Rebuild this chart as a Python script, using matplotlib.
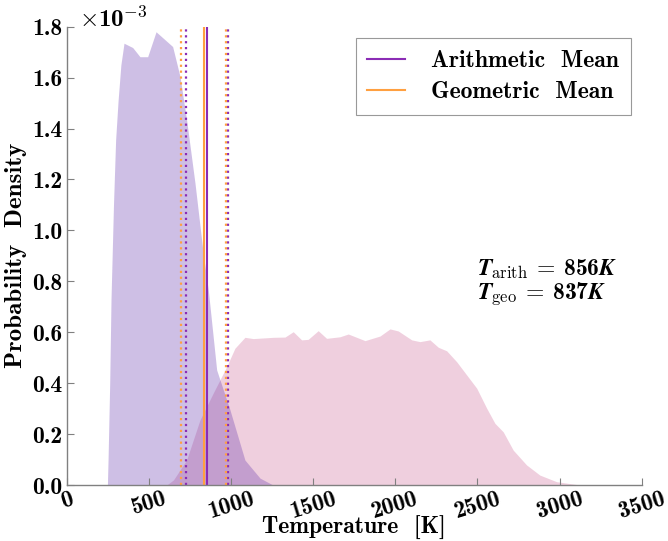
import numpy as np
import matplotlib
matplotlib.use("Agg")
import matplotlib.pyplot as plt
from matplotlib.ticker import FuncFormatter

plt.rcParams['font.family'] = ['cmb10', 'DejaVu Serif']
plt.rcParams['mathtext.fontset'] = 'custom'
plt.rcParams['mathtext.rm'] = 'cmr10'
plt.rcParams['mathtext.bf'] = 'cmb10'
plt.rcParams['mathtext.it'] = 'STIXGeneral:italic:bold'
plt.rcParams['axes.unicode_minus'] = False

# temperature distributions (density in units of 1e-3 per K)
temp_a = [248, 252, 262, 270, 285, 298, 313, 330, 349, 402, 446, 493, 544, 645, 690,
          730, 781, 831, 862, 913, 994, 1085, 1177, 1256]
dens_a = [0.0, 0.1, 0.4, 0.73, 1.1, 1.355, 1.51, 1.65, 1.735, 1.718, 1.682, 1.682, 1.78,
          1.722, 1.604, 1.434, 1.186, 0.91, 0.766, 0.452, 0.295, 0.098, 0.027, 0.0]

temp_b = [609, 650, 730, 811, 892, 974, 1024, 1085, 1136, 1258, 1329, 1379, 1430, 1470,
          1531, 1582, 1663, 1714, 1816, 1907, 1968, 2018, 2100, 2150, 2211, 2262, 2313,
          2374, 2435, 2496, 2557, 2607, 2657, 2718, 2799, 2880, 2982, 3124]
dens_b = [0.0, 0.02, 0.098, 0.255, 0.361, 0.465, 0.537, 0.58, 0.575, 0.58, 0.581, 0.602,
          0.57, 0.572, 0.606, 0.576, 0.582, 0.593, 0.567, 0.585, 0.613, 0.605, 0.57,
          0.563, 0.57, 0.541, 0.527, 0.484, 0.432, 0.38, 0.301, 0.242, 0.209, 0.137,
          0.079, 0.039, 0.013, 0.0]

t_arith = 856
t_geo = 837
arith_bounds = [724, 984]
geo_bounds = [697, 970]

purple = '#8b2cb5'
orange = '#ffa040'

fig = plt.figure(figsize=(6.68, 5.41), dpi=100)
ax = fig.add_axes([0.0998, 0.1035, 0.8608, 0.8472])

ax.fill_between(temp_b, np.array(dens_b) * 1e-3, color='#cd6294', alpha=0.3, linewidth=0)
ax.fill_between(temp_a, np.array(dens_a) * 1e-3, color='#5f2dac', alpha=0.3, linewidth=0)

ax.axvline(t_arith, color=purple, lw=1.5, label='Arithmetic  Mean')
ax.axvline(t_geo, color=orange, lw=1.5, label='Geometric  Mean')
for b in arith_bounds:
    ax.axvline(b, color=purple, lw=1.6, ls=':')
for b in geo_bounds:
    ax.axvline(b, color=orange, lw=1.6, ls=':')

ax.set_xlim(0, 3500)
ax.set_ylim(0, 1.8e-3)
ax.set_xticks([0, 500, 1000, 1500, 2000, 2500, 3000, 3500])
ax.set_yticks(np.arange(0, 1.81e-3, 0.2e-3))
ax.yaxis.set_major_formatter(FuncFormatter(lambda v, p: f'{v * 1e3:.1f}'))
ax.tick_params(direction='in', length=5, width=0.8, color='#808080', labelsize=17)
ax.tick_params(axis='y', pad=3)
ax.tick_params(axis='x', pad=2)
plt.setp(ax.get_xticklabels(), rotation=17, ha='center')

for s in ['top', 'right']:
    ax.spines[s].set_visible(False)
for s in ['left', 'bottom']:
    ax.spines[s].set_color('#808080')
    ax.spines[s].set_linewidth(1.0)

ax.text(0.022, 1.017, r'$\times\mathregular{10}^{-3}$', transform=ax.transAxes,
        fontsize=18, va='center', ha='left')

ax.set_xlabel('Temperature  [K]', fontsize=17, labelpad=-5)
ax.set_ylabel('Probability  Density', fontsize=18, labelpad=4)

ax.text(0.714, 0.472, r'$T_{\mathrm{arith}}\;=\;\mathbf{856}K$', transform=ax.transAxes,
        fontsize=17, va='center', ha='left')
ax.text(0.714, 0.418, r'$T_{\mathrm{geo}}\;=\;\mathbf{837}K$', transform=ax.transAxes,
        fontsize=17, va='center', ha='left')

leg = ax.legend(loc='upper right', bbox_to_anchor=(0.981, 0.975), borderaxespad=0,
                fontsize=17, fancybox=False, edgecolor='#999999', framealpha=1,
                handlelength=1.6, handletextpad=1.1, borderpad=0.5, labelspacing=0.4)
leg.get_frame().set_linewidth(0.8)

fig.savefig('out.png', dpi=100)
